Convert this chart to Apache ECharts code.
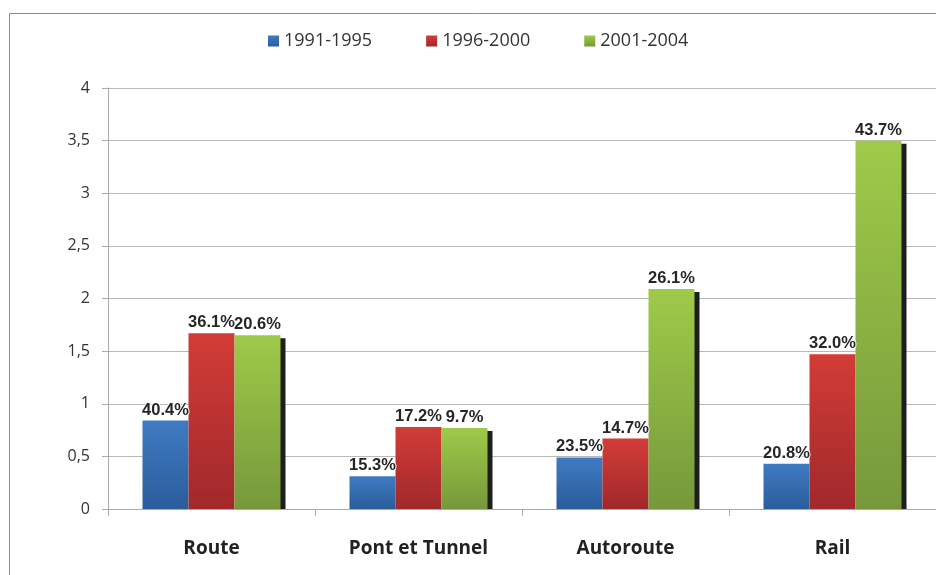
<!DOCTYPE html>
<html>
<head>
<meta charset="utf-8">
<script src="https://cdn.jsdelivr.net/npm/echarts@6/dist/echarts.min.js"></script>
<style>html,body{margin:0;padding:0;background:#fff}#c{width:936px;height:575px}</style>
</head>
<body>
<div id="c"></div>
<script>
const categories = ['Route', 'Pont et Tunnel', 'Autoroute', 'Rail'];
const seriesNames = ['1991-1995', '1996-2000', '2001-2004'];
const values1991 = [0.84, 0.31, 0.49, 0.43];
const values1996 = [1.67, 0.78, 0.67, 1.47];
const values2001 = [1.65, 0.77, 2.09, 3.50];
const labels1991 = ['40.4%', '15.3%', '23.5%', '20.8%'];
const labels1996 = ['36.1%', '17.2%', '14.7%', '32.0%'];
const labels2001 = ['20.6%', '9.7%', '26.1%', '43.7%'];
const yTicks = { min: 0, max: 4, interval: 0.5 };

const BAR_W = 46;
function grad(top, bottom) {
  return new echarts.graphic.LinearGradient(0, 0, 0, 1, [
    { offset: 0, color: top }, { offset: 1, color: bottom }
  ]);
}
const colors = [grad('#3f7bc3', '#2b5c9b'), grad('#d33c37', '#a1282b'), grad('#9fca4a', '#76983b')];

function barSeries(name, data, labels, color) {
  return {
    name: name, type: 'bar', data: data, barWidth: BAR_W, barGap: '0%', z: 3,
    itemStyle: { color: color },
    label: {
      show: true, position: 'top', distance: 2,
      formatter: p => labels[p.dataIndex],
      fontFamily: 'Liberation Sans, Arial, sans-serif', fontWeight: 'bold', fontSize: 16.5,
      color: '#262626', textBorderColor: 'rgba(255,255,255,0.95)', textBorderWidth: 2
    }
  };
}

const chart = echarts.init(document.getElementById('c'), null, { renderer: 'canvas' });
chart.setOption({
  animation: false,
  backgroundColor: '#fff',
  graphic: [{
    type: 'rect', z: -10,
    shape: { x: 9.5, y: 13.5, width: 1200, height: 1000 },
    style: { fill: 'none', stroke: '#8c8c8c', lineWidth: 1 }
  }],
  legend: {
    data: seriesNames, left: 263, top: 27, itemWidth: 11, itemHeight: 11, itemGap: 54,
    icon: 'rect',
    textStyle: { fontFamily: 'Open Sans', fontSize: 18, color: '#333' }
  },
  grid: { left: 108, top: 88, width: 831, height: 421, containLabel: false },
  xAxis: {
    type: 'category', data: categories,
    axisLine: { lineStyle: { color: '#aaaaaa', width: 1 } },
    axisTick: { show: true, length: 7, lineStyle: { color: '#aaaaaa' } },
    axisLabel: { margin: 30, fontFamily: 'Open Sans', fontWeight: 'bold', fontSize: 19, color: '#222' }
  },
  yAxis: {
    type: 'value', min: yTicks.min, max: yTicks.max, interval: yTicks.interval,
    axisLine: { show: true, lineStyle: { color: '#aaaaaa', width: 1 } },
    axisTick: { show: true, length: 6, lineStyle: { color: '#aaaaaa' } },
    axisLabel: {
      margin: 18, fontFamily: 'Open Sans', fontSize: 16, color: '#333',
      formatter: v => String(v).replace('.', ',')
    },
    splitLine: { lineStyle: { color: '#b9b9b9', width: 1 } }
  },
  series: [
    {
      type: 'custom', name: 'shadow', z: 1, silent: true,
      data: values2001.map((v, i) => [i, v]),
      renderItem: function (params, api) {
        const top = api.coord([api.value(0), api.value(1)]);
        const base = api.coord([api.value(0), 0]);
        const left = top[0] - 1.5 * BAR_W + 2 * BAR_W;
        return {
          type: 'rect',
          shape: { x: left + 5, y: top[1] + 3, width: BAR_W, height: base[1] - top[1] - 3 },
          style: { fill: '#1e1e1e' }
        };
      }
    },
    barSeries(seriesNames[0], values1991, labels1991, colors[0]),
    barSeries(seriesNames[1], values1996, labels1996, colors[1]),
    barSeries(seriesNames[2], values2001, labels2001, colors[2])
  ]
});
</script>
</body>
</html>
